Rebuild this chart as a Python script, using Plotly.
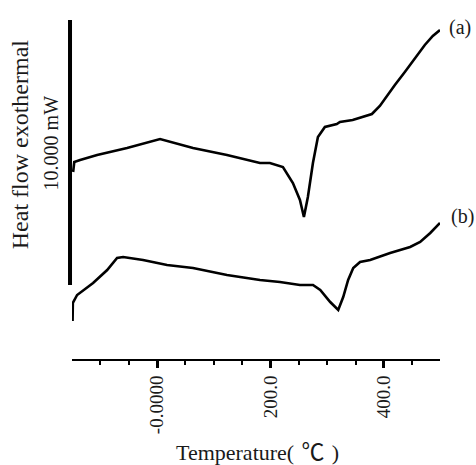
import plotly.graph_objects as go

# --- data ---
temp_a = [-148, -146, -135.7, -105.7, -52.9, 0, 5.3, 63.4, 123.3, 181.5, 199, 222,
          239.6, 252, 259, 266, 274.9, 283.7, 296, 317, 322.5, 345, 357.7, 378.9,
          392.9, 405.3, 419.4, 437, 454.6, 472.2, 486.3, 499]
heat_a = [18.7, 19.7, 19.9, 20.4, 21.1, 21.9, 22.0, 21.1, 20.4, 19.6, 19.6, 19.2,
          17.6, 15.9, 14.2, 16.2, 19.6, 22.2, 23.2, 23.5, 23.7, 23.9, 24.1, 24.5,
          25.3, 26.3, 27.4, 28.7, 30.0, 31.4, 32.3, 32.9]

temp_b = [-149, -148.5, -141, -112.8, -88, -70.5, -59.9, -24.7, 17.6, 63.4, 123.3,
          181.5, 216.7, 252, 275, 287.8, 305.4, 319.5, 328.3, 337, 346, 358, 375.8,
          411, 446.3, 464, 481.8, 499]
heat_b = [3.8, 5.6, 6.4, 7.6, 8.9, 10.1, 10.2, 9.9, 9.4, 9.1, 8.4, 7.9, 7.7, 7.4,
          7.4, 6.9, 5.7, 4.9, 6.2, 7.9, 9.1, 9.7, 9.9, 10.6, 11.2, 11.7, 12.6, 13.6]

curve_labels = ["(a)", "(b)"]
label_x = [1.054, 1.060]     # paper fractions of the plot area
label_y = [0.979, 0.419]

major_ticks = [0, 200, 400]
major_text = ["-0.0000", "200.0", "400.0"]
minor_ticks = [-100, -50, 50, 100, 150, 250, 300, 350, 450]

x_range = [-150, 499]
y_range = [0, 33.9]
y_bar = [7.4, 33.9]   # extent of the drawn heat-flow scale bar

FONT = "Liberation Serif, Times New Roman, serif"
INK = "#1a1a1a"

fig = go.Figure()
fig.add_trace(go.Scatter(x=temp_a, y=heat_a, mode="lines",
                         line=dict(color="black", width=2.6), showlegend=False))
fig.add_trace(go.Scatter(x=temp_b, y=heat_b, mode="lines",
                         line=dict(color="black", width=2.6), showlegend=False))

for t, lx, ly in zip(curve_labels, label_x, label_y):
    fig.add_annotation(x=lx, y=ly, xref="paper", yref="paper", text=t,
                       showarrow=False, xanchor="center", yanchor="middle",
                       font=dict(family=FONT, size=20, color=INK))

# vertical heat-flow scale bar
fig.add_shape(type="line", xref="paper", yref="y", x0=-0.0054, x1=-0.0054,
              y0=y_bar[0], y1=y_bar[1], line=dict(color="black", width=4))

fig.add_annotation(xref="paper", yref="paper", x=-0.139, y=0.633,
                   xanchor="center", yanchor="middle",
                   text="Heat flow exothermal", textangle=-90, showarrow=False,
                   font=dict(family=FONT, size=24, color=INK))
fig.add_annotation(xref="paper", yref="paper", x=-0.057, y=0.636,
                   xanchor="center", yanchor="middle",
                   text="10.000 mW", textangle=-90, showarrow=False,
                   font=dict(family=FONT, size=20, color=INK))
fig.add_annotation(xref="paper", yref="paper", x=0.503, y=-0.268,
                   xanchor="center", yanchor="middle",
                   text="Temperature(\u2004<span style='font-family:Noto Sans CJK JP;"
                        "font-size:23px'>℃</span>\u2004)",
                   showarrow=False,
                   font=dict(family=FONT, size=22, color=INK))

fig.update_layout(
    width=476, height=465,
    margin=dict(l=72, r=36, t=20, b=106),
    paper_bgcolor="white", plot_bgcolor="white",
    font=dict(family=FONT, color=INK),
    xaxis=dict(range=x_range, showgrid=False, zeroline=False, automargin=False,
               showline=True, linecolor="black", linewidth=2,
               tickmode="array", tickvals=major_ticks, ticktext=major_text,
               ticks="outside", ticklen=7, tickwidth=2.5, tickcolor="black",
               tickangle=-90, tickfont=dict(family=FONT, size=19, color=INK),
               minor=dict(tickmode="array", tickvals=minor_ticks, ticks="outside",
                          ticklen=4, tickwidth=2, tickcolor="black")),
    yaxis=dict(range=y_range, visible=False, automargin=False),
)

fig.write_html("out.html",
               config={"displayModeBar": False},
               post_script="document.body.style.margin='0';"
                           "document.body.style.overflow='hidden';")
